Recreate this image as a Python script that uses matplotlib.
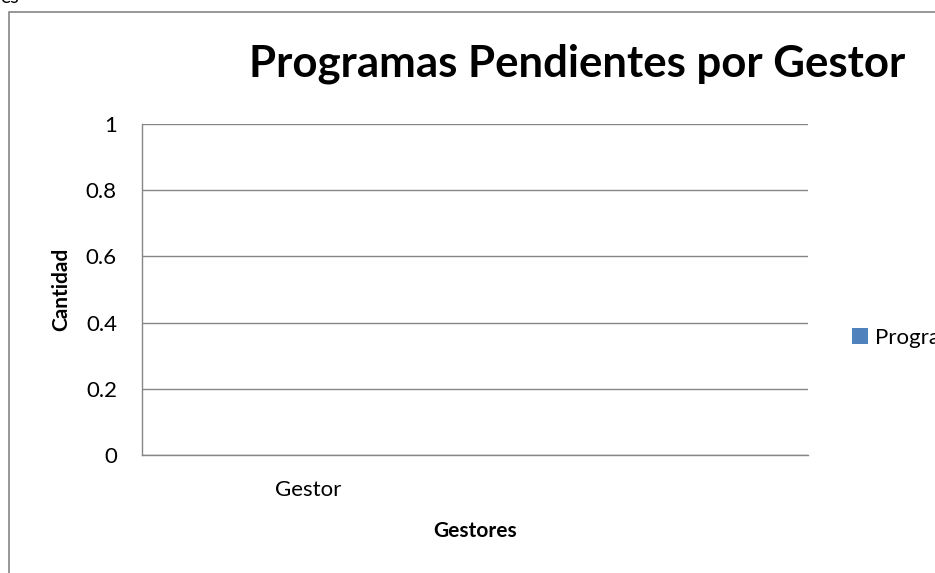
import matplotlib
matplotlib.use("Agg")
import matplotlib.pyplot as plt
from matplotlib.patches import Rectangle

# Chart data
categories = ["Gestor", ""]
values = [0, 0]
series_name = "Programas"
title = "Programas Pendientes por Gestor"
x_label = "Gestores"
y_label = "Cantidad"
y_ticks = [0, 0.2, 0.4, 0.6, 0.8, 1]
y_tick_labels = ["0", "0.2", "0.4", "0.6", "0.8", "1"]

FONT = "Lato"
GRID = "#868686"
BAR = "#4F81BD"

W, H = 935, 573
fig = plt.figure(figsize=(W / 100, H / 100), dpi=100)
fig.patch.set_facecolor("white")

def fx(px):
    return px / W

def fy(py):
    return 1 - py / H

# chart area border
fig.patches.append(Rectangle((fx(9), fy(585)), fx(940) - fx(9), fy(12) - fy(585),
                             transform=fig.transFigure, fill=False,
                             edgecolor=GRID, linewidth=1.2))

# clipped caption fragment above the chart
fig.text(fx(0), fy(3), "es", fontfamily=FONT, fontsize=14, ha="left",
         va="baseline", color="black")

ax = fig.add_axes([fx(142), fy(455), fx(808) - fx(142), fy(124) - fy(455)])
x = list(range(len(categories)))
ax.bar(x, values, width=0.6, color=BAR, label=series_name)
ax.set_xlim(-0.5, len(categories) - 0.5)
ax.set_ylim(0, 1)
ax.set_yticks(y_ticks)
ax.set_yticklabels(y_tick_labels)
ax.set_xticks(x)
ax.set_xticklabels(categories)
ax.tick_params(axis="both", length=0, labelsize=16, colors="black")
ax.tick_params(axis="y", pad=18)
ax.tick_params(axis="x", pad=18)
for lbl in ax.get_xticklabels() + ax.get_yticklabels():
    lbl.set_fontfamily(FONT)
ax.yaxis.grid(True, color=GRID, linewidth=1)
ax.set_axisbelow(True)
for side in ("top", "right"):
    ax.spines[side].set_visible(False)
for side in ("left", "bottom"):
    ax.spines[side].set_color(GRID)
    ax.spines[side].set_linewidth(1)

ax.set_xlabel(x_label, fontfamily=FONT, fontweight="bold", fontsize=15)
ax.set_ylabel(y_label, fontfamily=FONT, fontweight="bold", fontsize=15)
ax.xaxis.set_label_coords(0.5, -(521 - 455) / 331)
ax.yaxis.set_label_coords(-(142 - 71) / 666, 0.5)

fig.text(fx(577), fy(77), title, fontfamily=FONT, fontweight="bold",
         fontsize=31.5, ha="center", va="baseline")

leg = ax.legend(loc="center left", bbox_to_anchor=(fx(852), fy(338)),
                bbox_transform=fig.transFigure, frameon=False,
                prop={"family": FONT, "size": 16}, handlelength=0.7,
                handleheight=0.7, handletextpad=0.35, borderpad=0,
                borderaxespad=0)
for h in leg.legend_handles:
    h.set_edgecolor("none")
    h.set_facecolor(BAR)

fig.savefig("out.png", dpi=100)
